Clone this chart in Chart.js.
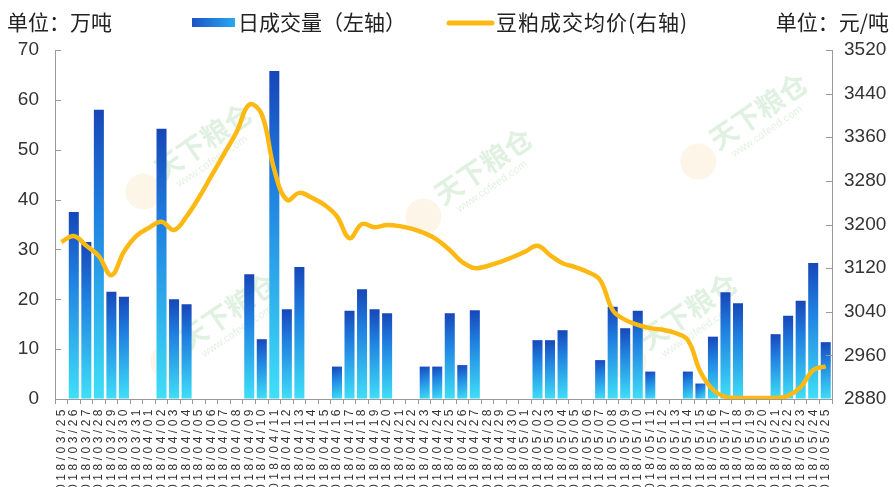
<!DOCTYPE html>
<html>
<head>
<meta charset="utf-8">
<script src="https://cdn.jsdelivr.net/npm/chart.js@4/dist/chart.umd.min.js"></script>
<style>
  html, body { margin: 0; padding: 0; background: #fff; }
  #wrap { width: 895px; height: 487px; position: relative; overflow: hidden; }
</style>
</head>
<body>
<div id="wrap"><canvas id="c" width="895" height="487"></canvas></div>
<script>
// Trading days (calendar dates, weekends/holidays left empty)
const dates = [
  '2018/03/25','2018/03/26','2018/03/27','2018/03/28','2018/03/29','2018/03/30','2018/03/31',
  '2018/04/01','2018/04/02','2018/04/03','2018/04/04','2018/04/05','2018/04/06','2018/04/07',
  '2018/04/08','2018/04/09','2018/04/10','2018/04/11','2018/04/12','2018/04/13','2018/04/14',
  '2018/04/15','2018/04/16','2018/04/17','2018/04/18','2018/04/19','2018/04/20','2018/04/21',
  '2018/04/22','2018/04/23','2018/04/24','2018/04/25','2018/04/26','2018/04/27','2018/04/28',
  '2018/04/29','2018/04/30','2018/05/01','2018/05/02','2018/05/03','2018/05/04','2018/05/05',
  '2018/05/06','2018/05/07','2018/05/08','2018/05/09','2018/05/10','2018/05/11','2018/05/12',
  '2018/05/13','2018/05/14','2018/05/15','2018/05/16','2018/05/17','2018/05/18','2018/05/19',
  '2018/05/20','2018/05/21','2018/05/22','2018/05/23','2018/05/24','2018/05/25'
];

// 日成交量（万吨）
const volume = [
  null, 37.5, 31.5, 58.0, 21.5, 20.5, null,
  null, 54.2, 20.0, 19.0, null, null, null,
  null, 25.0, 12.0, 65.8, 18.0, 26.5, null,
  null, 6.5, 17.7, 22.0, 18.0, 17.2, null,
  null, 6.5, 6.5, 17.2, 6.8, 17.8, null,
  null, null, null, 11.8, 11.8, 13.8, null,
  null, 7.8, 18.5, 14.2, 17.7, 5.5, null,
  null, 5.5, 3.1, 12.5, 21.4, 19.2, null,
  null, 13.0, 16.7, 19.7, 27.3, 11.4
];

// 豆粕成交均价（元/吨）
const price = [
  3168, 3179, 3161, 3142, 3107, 3150, 3179,
  3194, 3205, 3190, 3215, 3250, 3290, 3330,
  3370, 3420, 3402, 3300, 3245, 3258, 3249,
  3236, 3215, 3175, 3201, 3195, 3199, 3197,
  3192, 3184, 3172, 3153, 3131, 3120, 3124,
  3131, 3140, 3150, 3161, 3144, 3129, 3122,
  3113, 3098, 3043, 3025, 3016, 3010, 3007,
  3001, 2988, 2930, 2897, 2884, 2882, 2882,
  2882, 2882, 2886, 2902, 2933, 2940
];

const volumeTicks = { min: 0, max: 70, step: 10 };
const priceTicks = { min: 2880, max: 3520, step: 80 };

const seriesNames = ['日成交量（左轴）', '豆粕成交均价(右轴)'];
const unitLeft = '单位：万吨';
const unitRight = '单位：元/吨';

const CJK = '"Noto Sans CJK SC", "Noto Sans", sans-serif';
const NUM = '"Liberation Sans", Arial, sans-serif';
const AXIS_GREY = '#9a9a9a';
const GOLD = '#FDB913';

// Per-bar blue gradient: deep blue at the top, cyan at the base
function barFill(ctx) {
  const chart = ctx.chart;
  if (ctx.type !== 'data' || !chart.chartArea || ctx.raw == null) return '#1f7fe0';
  const ys = chart.scales.yL, xs = chart.scales.x;
  const top = ys.getPixelForValue(ctx.raw);
  const base = ys.getPixelForValue(0);
  const cx = xs.getPixelForValue(ctx.dataIndex);
  const g = chart.ctx.createLinearGradient(cx - 5, top, cx + 5, base);
  g.addColorStop(0, '#1746b8');
  g.addColorStop(0.35, '#1f7fe0');
  g.addColorStop(1, '#3fe0f8');
  return g;
}

// Wider letter spacing for the date labels only (value-axis labels sit on layer z=1)
const dateSpacing = {
  id: 'dateSpacing',
  beforeDraw(chart) { chart.ctx.letterSpacing = '3.5px'; },
  beforeDatasetsDraw(chart) { chart.ctx.letterSpacing = '0px'; }
};

// Inward tick marks on both value axes
const innerTicks = {
  id: 'innerTicks',
  afterDraw(chart) {
    const c = chart.ctx;
    c.save();
    c.strokeStyle = AXIS_GREY;
    c.lineWidth = 1;
    ['yL', 'yR'].forEach(id => {
      const s = chart.scales[id];
      const x0 = id === 'yL' ? s.right : s.left;
      const dir = id === 'yL' ? 1 : -1;
      s.ticks.forEach(t => {
        const y = Math.round(s.getPixelForValue(t.value)) + 0.5;
        c.beginPath();
        c.moveTo(x0, y);
        c.lineTo(x0 + dir * 6, y);
        c.stroke();
      });
    });
    c.restore();
  }
};

// Header: unit captions and the legend row
const header = {
  id: 'header',
  afterDraw(chart) {
    const c = chart.ctx;
    c.save();
    c.letterSpacing = '0px';
    c.textBaseline = 'middle';
    c.fillStyle = '#222';
    c.font = '21px ' + CJK;
    c.textAlign = 'left';
    c.fillText(unitLeft, 7, 22);
    c.textAlign = 'right';
    c.fillText(unitRight, 889, 22);

    // bar swatch
    const g = c.createLinearGradient(192, 0, 235, 0);
    g.addColorStop(0, '#1a55c4');
    g.addColorStop(1, '#2aa8f0');
    c.fillStyle = g;
    c.fillRect(192, 18, 43, 9);
    c.fillStyle = '#222';
    c.textAlign = 'left';
    c.fillText(seriesNames[0], 238, 22);

    // line swatch
    c.strokeStyle = GOLD;
    c.lineWidth = 5;
    c.lineCap = 'round';
    c.beginPath();
    c.moveTo(449, 23);
    c.lineTo(492, 23);
    c.stroke();
    c.letterSpacing = '1px';
    c.fillText(seriesNames[1], 496, 22);
    c.restore();
  }
};

// Faint site watermark behind the data
const watermark = {
  id: 'watermark',
  beforeDatasetsDraw(chart) {
    const c = chart.ctx;
    const spots = [[190, 150], [470, 175], [745, 120], [215, 320], [675, 320]];
    c.save();
    spots.forEach(([x, y]) => {
      c.save();
      c.translate(x, y);
      c.rotate(-0.6);
      c.globalAlpha = 0.17;
      c.fillStyle = '#f2c572';
      c.beginPath();
      c.arc(-62, 8, 18, 0, Math.PI * 2);
      c.fill();
      c.fillStyle = '#4cae4c';
      c.font = 'bold 28px ' + CJK;
      c.textAlign = 'left';
      c.textBaseline = 'middle';
      c.fillText('天下粮仓', -40, 0);
      c.font = '11px ' + NUM;
      c.fillText('www.cofeed.com', -30, 22);
      c.restore();
    });
    c.restore();
  }
};

const plainNumber = v => String(v);

new Chart(document.getElementById('c'), {
  data: {
    labels: dates,
    datasets: [
      {
        type: 'line',
        label: seriesNames[1],
        data: price,
        yAxisID: 'yR',
        borderColor: GOLD,
        borderWidth: 4.5,
        pointRadius: 0,
        tension: 0.4,
        fill: false,
        order: 0
      },
      {
        type: 'bar',
        label: seriesNames[0],
        data: volume,
        yAxisID: 'yL',
        backgroundColor: barFill,
        categoryPercentage: 1,
        barPercentage: 0.8,
        order: 1
      }
    ]
  },
  plugins: [dateSpacing, watermark, innerTicks, header],
  options: {
    responsive: false,
    animation: false,
    layout: { padding: { top: 50, left: 0, right: 0, bottom: 0 } },
    plugins: { legend: { display: false }, tooltip: { enabled: false } },
    scales: {
      x: {
        type: 'category',
        offset: true,
        grid: { display: true, drawOnChartArea: false, drawTicks: true, tickLength: 5, color: AXIS_GREY, offset: true },
        border: { color: AXIS_GREY },
        ticks: {
          autoSkip: false, maxRotation: 90, minRotation: 90, padding: 2,
          color: '#333', font: { family: NUM, size: 12 }
        },
        afterFit(s) { s.height = 88; }
      },
      yL: {
        type: 'linear',
        position: 'left',
        min: volumeTicks.min, max: volumeTicks.max,
        grid: { drawOnChartArea: false, drawTicks: false },
        border: { color: AXIS_GREY },
        ticks: { z: 1, stepSize: volumeTicks.step, padding: 16, color: '#333', font: { family: NUM, size: 19 }, callback: plainNumber },
        afterFit(s) { s.width = 55; }
      },
      yR: {
        type: 'linear',
        position: 'right',
        min: priceTicks.min, max: priceTicks.max,
        grid: { drawOnChartArea: false, drawTicks: false },
        border: { color: AXIS_GREY },
        ticks: { z: 1, stepSize: priceTicks.step, padding: 12, color: '#333', font: { family: NUM, size: 19 }, callback: plainNumber },
        afterFit(s) { s.width = 63; }
      }
    }
  }
});
</script>
</body>
</html>
